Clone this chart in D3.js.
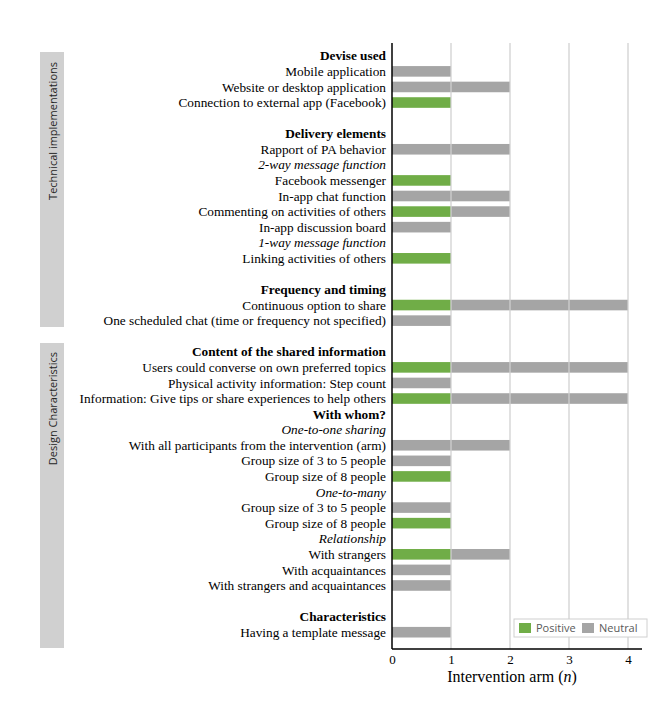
<!DOCTYPE html>
<html>
<head>
<meta charset="utf-8">
<script src="https://cdn.jsdelivr.net/npm/d3@7"></script>
<style>
  body { margin: 0; background: #fff; }
  svg text { font-family: "Liberation Serif", "DejaVu Serif", serif; }
</style>
</head>
<body>
<div id="chart"></div>
<script>
// rows top to bottom; type: h = bold header, s = italic sub header, b = bar row, gap = blank
const rowLabels = [
  "Devise used", "Mobile  application", "Website or desktop application", "Connection to external app (Facebook)", "",
  "Delivery elements", "Rapport of PA behavior", "2-way message function", "Facebook messenger", "In-app chat function",
  "Commenting on activities of others", "In-app discussion board", "1-way message function", "Linking activities of others", "",
  "Frequency and timing", "Continuous option to share", "One scheduled chat (time or frequency not specified)", "",
  "Content of the shared information", "Users could converse on own preferred topics", "Physical activity information: Step count",
  "Information: Give tips or share experiences to help others", "With whom?", "One-to-one sharing",
  "With all participants from the intervention (arm)", "Group size of 3 to 5 people", "Group size of 8 people",
  "One-to-many", "Group size of 3 to 5 people", "Group size of 8 people", "Relationship", "With strangers",
  "With acquaintances", "With strangers and acquaintances", "", "Characteristics", "Having a template message"
]
const rowTypes = [
  "h", "b", "b", "b", "gap",
  "h", "b", "s", "b", "b",
  "b", "b", "s", "b", "gap",
  "h", "b", "b", "gap",
  "h", "b", "b",
  "b", "h", "s",
  "b", "b", "b",
  "s", "b", "b", "s", "b",
  "b", "b", "gap", "h", "b"
]
const positive = [
  0, 0, 0, 1, 0,
  0, 0, 0, 1, 0,
  1, 0, 0, 1, 0,
  0, 1, 0, 0,
  0, 1, 0,
  1, 0, 0,
  0, 0, 1,
  0, 0, 1, 0, 1,
  0, 0, 0, 0, 0
]
const neutral = [
  0, 1, 2, 0, 0,
  0, 2, 0, 0, 2,
  1, 1, 0, 0, 0,
  0, 3, 1, 0,
  0, 3, 1,
  3, 0, 0,
  2, 1, 0,
  0, 1, 0, 0, 1,
  1, 1, 0, 0, 1
]
const xTicks = [0, 1, 2, 3, 4]
const seriesNames = ["Positive", "Neutral"]
const seriesColors = ["#70ad47", "#a5a5a5"]
const sections = [
  {name: "Technical implementations", from: 0, to: 17},
  {name: "Design Characteristics", from: 19, to: 37}
]

const width = 666, height = 707
const svg = d3.select("#chart").append("svg")
  .attr("width", width).attr("height", height)

const rows = rowLabels.map((label, i) => ({
  i: i, label: label, type: rowTypes[i], pos: positive[i], neu: neutral[i]
}))

const x = d3.scaleLinear().domain([0, 4]).range([392, 628])
const y = d3.scaleBand().domain(d3.range(rows.length)).range([48, 640]).paddingInner(0.32).paddingOuter(0.16)

// side panels
const side = svg.append("g")
side.selectAll("rect").data(sections).enter().append("rect")
  .attr("x", 40).attr("width", 24)
  .attr("y", (d, k) => k === 0 ? 52 : 343)
  .attr("height", (d, k) => k === 0 ? 275 : 305)
  .attr("fill", "#d0d0d0")
side.selectAll("text").data(sections).enter().append("text")
  .attr("transform", (d, k) => `translate(57,${k === 0 ? 62 : 352}) rotate(-90)`)
  .attr("text-anchor", "end")
  .style("font-family", "'Open Sans', sans-serif")
  .style("font-size", "11px")
  .attr("fill", "#262626")
  .text(d => d.name)

// bars
const barRows = rows.filter(d => d.type === "b")
svg.append("g").selectAll("rect.pos").data(barRows).enter().append("rect")
  .attr("x", x(0)).attr("y", d => y(d.i))
  .attr("width", d => x(d.pos) - x(0)).attr("height", y.bandwidth())
  .attr("fill", seriesColors[0])
svg.append("g").selectAll("rect.neu").data(barRows).enter().append("rect")
  .attr("x", d => x(d.pos)).attr("y", d => y(d.i))
  .attr("width", d => x(d.pos + d.neu) - x(d.pos)).attr("height", y.bandwidth())
  .attr("fill", seriesColors[1])

// gridlines
svg.append("g").selectAll("line").data(xTicks.slice(1)).enter().append("line")
  .attr("x1", d => x(d)).attr("x2", d => x(d))
  .attr("y1", 43).attr("y2", 649)
  .attr("stroke", "#d0d0d0").attr("stroke-width", 1.5).attr("opacity", 0.85)

// row labels
svg.append("g").selectAll("text").data(rows.filter(d => d.type !== "gap")).enter().append("text")
  .attr("x", 386)
  .attr("y", d => y(d.i) + y.bandwidth() / 2)
  .attr("dy", "0.35em")
  .attr("text-anchor", "end")
  .style("font-size", "13.3px")
  .style("font-weight", d => d.type === "h" ? "bold" : "normal")
  .style("font-style", d => d.type === "s" ? "italic" : "normal")
  .attr("fill", "#000")
  .text(d => d.label)

// axes lines
svg.append("line").attr("x1", x(0)).attr("x2", x(0)).attr("y1", 43).attr("y2", 649)
  .attr("stroke", "#000").attr("stroke-width", 1.5)
const xAxis = svg.append("g").attr("transform", "translate(0,649)")
  .call(d3.axisBottom(x).tickValues(xTicks).tickFormat(d3.format("d")).tickSize(0).tickPadding(6))
xAxis.select(".domain").attr("d", "M392,0H642").attr("stroke", "#000").attr("stroke-width", 1.5)
xAxis.selectAll("text").style("font-family", "'Liberation Serif', serif").style("font-size", "13px").attr("fill", "#000")

const title = svg.append("text").attr("x", 512).attr("y", 682).attr("text-anchor", "middle")
  .style("font-size", "16px").attr("fill", "#000")
title.append("tspan").text("Intervention arm (")
title.append("tspan").style("font-style", "italic").text("n")
title.append("tspan").text(")")

// legend
const legend = svg.append("g").attr("transform", "translate(514,619)")
legend.append("rect").attr("width", 133).attr("height", 18)
  .attr("fill", "#fff").attr("stroke", "#d0d0d0")
const item = legend.selectAll("g").data(seriesNames).enter().append("g")
  .attr("transform", (d, k) => `translate(${k === 0 ? 5 : 68},0)`)
item.append("rect").attr("y", 4).attr("width", 12).attr("height", 10)
  .attr("fill", (d, k) => seriesColors[k])
item.append("text").attr("x", 17).attr("y", 9).attr("dy", "0.35em")
  .style("font-family", "'Open Sans', sans-serif").style("font-size", "11px")
  .attr("fill", "#595959").text(d => d)
</script>
</body>
</html>
